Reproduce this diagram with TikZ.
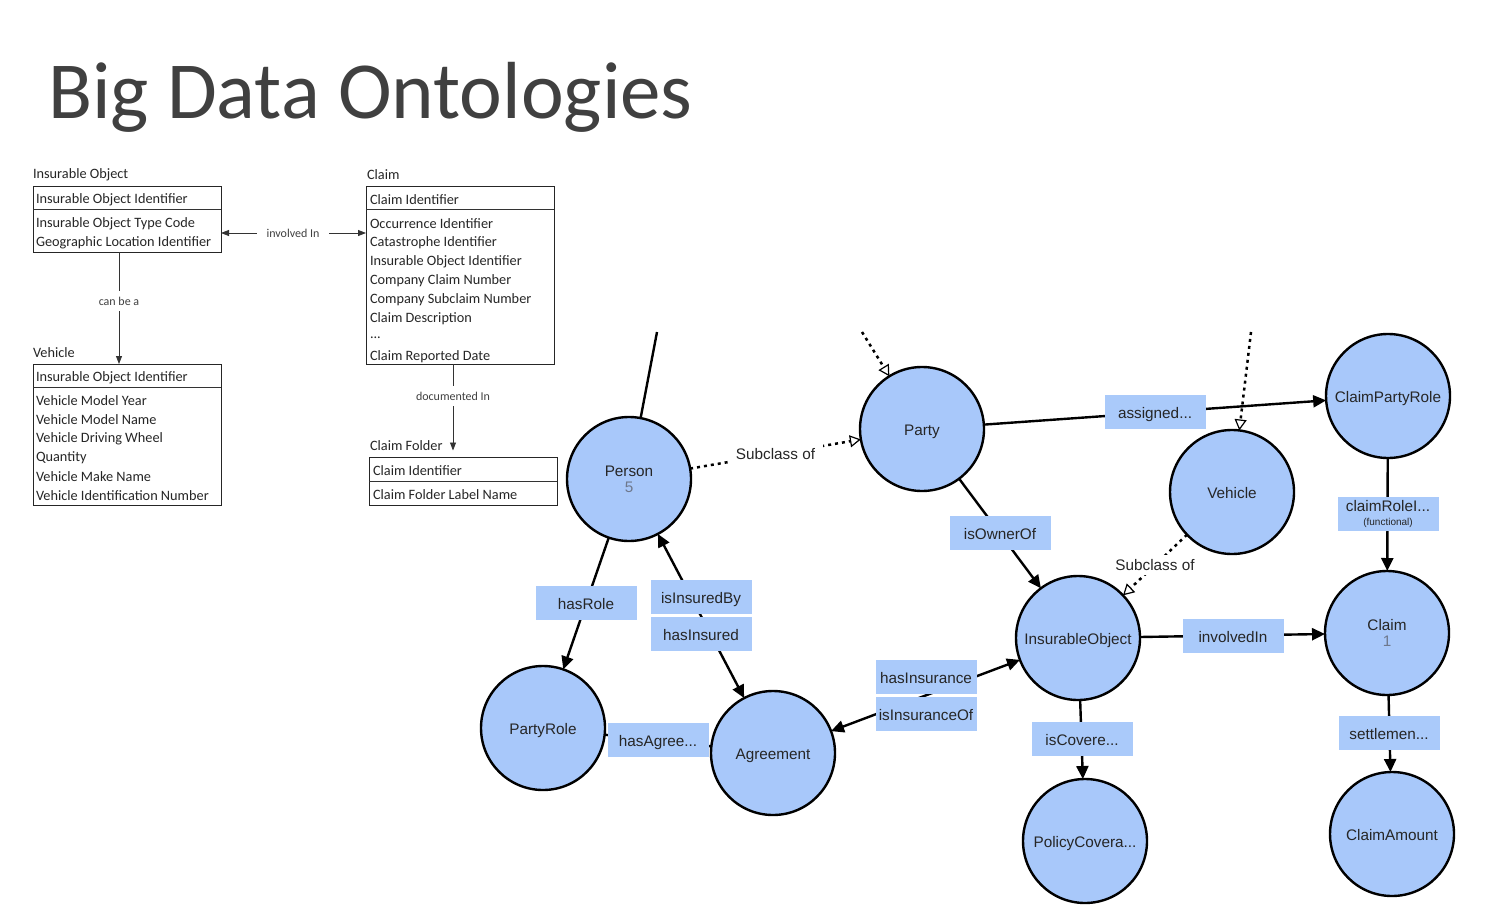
\documentclass[tikz,border=0pt]{standalone}
\usepackage{fontspec}
\setmainfont{Liberation Sans}
\newfontfamily\calib{Carlito}
\usetikzlibrary{arrows.meta}
\definecolor{nodeblue}{RGB}{168,200,250}
\definecolor{lblblue}{RGB}{170,202,250}
\definecolor{titlegray}{RGB}{64,64,64}
\definecolor{numgray}{RGB}{110,120,140}
\begin{document}
\begin{tikzpicture}[x=1pt,y=-1pt,
  every node/.style={inner sep=0pt, outer sep=0pt},
  cls/.style={circle, draw=black, line width=2.4pt, fill=nodeblue, minimum size=124pt, inner sep=0pt, font=\fontsize{15.3}{17}\selectfont, align=center, text=black!85},
  cls1/.style={cls, text height=12pt, text depth=0pt},
  lbl/.style={fill=lblblue, minimum width=101pt, minimum height=34pt, inner sep=0pt, font=\fontsize{15.3}{17}\selectfont, text=black!85},
  lbl1/.style={lbl, text height=12pt, text depth=0pt},
  rel/.style={line width=2.4pt, draw=black, -{Triangle[length=13pt,width=12pt]}},
  relboth/.style={line width=2.4pt, draw=black, {Triangle[length=13pt,width=12pt]}-{Triangle[length=13pt,width=12pt]}},
  plainrel/.style={line width=2.4pt, draw=black},
  subc/.style={line width=2.5pt, draw=black, dash pattern=on 3pt off 4pt, -{Triangle[length=11pt,width=12pt,fill=white,line width=1.2pt]}},
  subtxt/.style={fill=white, inner xsep=8pt, inner ysep=4pt, font=\fontsize{15.3}{17}\selectfont, text=black!85},
  erbox/.style={draw=black!85, line width=0.9pt, inner sep=0pt, anchor=north west},
  ertxt/.style={anchor=west, inner sep=0pt, yshift=-1.5pt, font=\calib\fontsize{14.3}{17}\selectfont, text=black!85},
  ersmall/.style={font=\calib\fontsize{12}{14}\selectfont, text=titlegray},
  erarr/.style={line width=0.8pt, draw=black!80, -{Triangle[length=8pt,width=6pt]}},
  erline/.style={line width=0.8pt, draw=black!80}
]
\useasboundingbox[fill=white] (0,0) rectangle (1511,904);

% title
\node[anchor=base west, font=\calib\fontsize{81}{90}\selectfont, text=titlegray] (title) at (48,119) {Big Data Ontologies};

% ---------- ER tables ----------
% Insurable Object
\node[ertxt] (iot) at (33,173) {Insurable Object};
\node[erbox, minimum width=188pt, minimum height=66pt] (io) at (33,186) {};
\draw[erline] (33,209) -- (221,209);
\node[ertxt] (io1) at (36,198) {Insurable Object Identifier};
\node[ertxt] (io2) at (36,222) {Insurable Object Type Code};
\node[ertxt] (io3) at (36,241) {Geographic Location Identifier};

% Vehicle
\node[ertxt] (vt) at (33,351) {Vehicle};
\node[erbox, minimum width=188pt, minimum height=141pt] (veh) at (33,364) {};
\draw[erline] (33,387) -- (221,387);
\node[ertxt] (v1) at (36,376) {Insurable Object Identifier};
\node[ertxt] (v2) at (36,399) {Vehicle Model Year};
\node[ertxt] (v3) at (36,418) {Vehicle Model Name};
\node[ertxt] (v4) at (36,437) {Vehicle Driving Wheel};
\node[ertxt] (v5) at (36,456) {Quantity};
\node[ertxt] (v6) at (36,475) {Vehicle Make Name};
\node[ertxt] (v7) at (36,494) {Vehicle Identification Number};

% Claim
\node[ertxt] (ct) at (367,173) {Claim};
\node[erbox, minimum width=188pt, minimum height=178pt] (claimt) at (366,186) {};
\draw[erline] (366,209) -- (554,209);
\node[ertxt] (c1) at (370,198) {Claim Identifier};
\node[ertxt] (c2) at (370,222) {Occurrence Identifier};
\node[ertxt] (c3) at (370,241) {Catastrophe Identifier};
\node[ertxt] (c4) at (370,260) {Insurable Object Identifier};
\node[ertxt] (c5) at (370,279) {Company Claim Number};
\node[ertxt] (c6) at (370,298) {Company Subclaim Number};
\node[ertxt] (c7) at (370,317) {Claim Description};
\node[ertxt] (c8) at (370,336) {...};
\node[ertxt] (c9) at (370,355) {Claim Reported Date};

% Claim Folder
\node[ertxt] (cft) at (370,444) {Claim Folder};
\node[erbox, minimum width=188pt, minimum height=48pt] (cf) at (369,457) {};
\draw[erline] (369,481) -- (557,481);
\node[ertxt] (cf1) at (373,469) {Claim Identifier};
\node[ertxt] (cf2) at (373,493) {Claim Folder Label Name};

% ER connectors
\node[ersmall, inner xsep=10pt] (inv) at (293,233) {involved In};
\draw[erarr] (inv.west) -- (inv.west -| io.east);
\draw[erarr] (inv.east) -- (inv.east -| claimt.west);
\node[ersmall, inner ysep=6pt] (canbe) at (119,301) {can be a};
\draw[erline] (canbe.north) -- (canbe.north |- io.south);
\draw[erarr] (canbe.south) -- (canbe.south |- veh.north);
\node[ersmall, inner ysep=6pt] (doc) at (453,396) {documented In};
\draw[erline] (doc.north) -- (doc.north |- claimt.south);
\draw[erarr] (doc.south) -- (doc.south |- cft.south);

% ---------- ontology graph ----------
\node[cls] (person) at (629,479) {Person\\[-1pt]{\color{numgray}5}};
\node[cls1] (party) at (922,429) {Party};
\node[cls1] (cpr) at (1388,396) {ClaimPartyRole};
\node[cls1] (vehicle) at (1232,492) {Vehicle};
\node[cls1] (insobj) at (1078,638) {InsurableObject};
\node[cls] (claim) at (1387,633) {Claim\\[-1pt]{\color{numgray}1}};
\node[cls1] (partyrole) at (543,728) {PartyRole};
\node[cls1] (agreement) at (773,753) {Agreement};
\node[cls1] (policy) at (1085,841) {PolicyCovera...};
\node[cls1] (amount) at (1392,834) {ClaimAmount};

\coordinate (ptop) at (657,332);
\coordinate (partytop) at (862,332);
\coordinate (vehtop) at (1251,332);

\draw[plainrel] (person) -- (ptop);
\draw[subc] (partytop) -- (party);
\draw[subc] (vehtop) -- (vehicle);
\draw[subc] (person) -- node[subtxt] (sub1) {Subclass of} (party);
\draw[subc] (vehicle) -- node[subtxt] (sub2) {Subclass of} (insobj);

\draw[rel] (party) -- (cpr);
\draw[rel] (party) -- (insobj);
\draw[rel] (cpr) -- (claim);
\draw[rel] (insobj) -- (claim);
\draw[rel] (claim) -- (amount);
\draw[rel] (insobj) -- (policy);
\draw[rel] (person) -- (partyrole);
\draw[relboth] (agreement) -- (person);
\draw[relboth] (agreement) -- (insobj);
\draw[plainrel] (partyrole) -- (agreement);

% label boxes
\node[lbl1] (lassigned) at (1155,412) {assigned...};
\node[lbl1] (lowner) at (1000,533) {isOwnerOf};
\node[lbl, align=center] (lclaimrole) at (1388,514) {claimRoleI...\\[-3pt]{\fontsize{10}{11}\selectfont (functional)}};
\node[lbl1] (linvolved) at (1233,636) {involvedIn};
\node[lbl1] (lsettle) at (1389,733) {settlemen...};
\node[lbl1] (lcovered) at (1082,739) {isCovere...};
\node[lbl1] (lrole) at (586,603) {hasRole};
\node[lbl1] (linsuredby) at (701,597) {isInsuredBy};
\node[lbl1] (linsured) at (701,634) {hasInsured};
\node[lbl1] (lagree) at (658,740) {hasAgree...};
\node[lbl1] (lhasins) at (926,677) {hasInsurance};
\node[lbl1] (lisins) at (926,714) {isInsuranceOf};
\end{tikzpicture}
\end{document}
